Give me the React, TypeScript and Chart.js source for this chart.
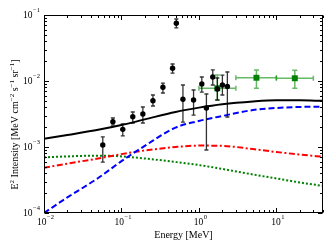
import React, { useEffect, useRef } from 'react';
import { Chart, registerables } from 'chart.js';

Chart.register(...registerables);

// ---- model curves (MeV, MeV cm^-2 s^-1 sr^-1) ----
const curveEnergy = [0.01, 0.02, 0.05, 0.1, 0.2, 0.5, 1, 2, 5, 10, 20, 40];
const totalModel = [1.33e-3, 1.52e-3, 1.82e-3, 2.15e-3, 2.62e-3, 3.4e-3, 3.95e-3, 4.45e-3, 4.9e-3, 5.1e-3, 5.1e-3, 5.0e-3];
const blueModel = [1.0e-4, 1.72e-4, 3.39e-4, 6.1e-4, 1.04e-3, 1.97e-3, 2.48e-3, 2.95e-3, 3.63e-3, 3.9e-3, 4.04e-3, 4.08e-3];
const redModel = [4.86e-4, 5.6e-4, 6.7e-4, 7.8e-4, 8.85e-4, 1.0e-3, 1.05e-3, 1.04e-3, 9.3e-4, 8.4e-4, 7.7e-4, 7.1e-4];
const greenModel = [6.98e-4, 7.2e-4, 7.4e-4, 7.2e-4, 6.7e-4, 5.93e-4, 5.33e-4, 4.65e-4, 3.83e-4, 3.34e-4, 2.9e-4, 2.57e-4];

// ---- black data points ----
const pointEnergy = [0.0574, 0.0775, 0.104, 0.14, 0.189, 0.255, 0.343, 0.457, 0.511, 0.622, 0.853, 1.09, 1.25, 1.51, 1.73, 2.01, 2.33];
const pointIntensity = [1.07e-3, 2.42e-3, 1.85e-3, 2.88e-3, 3.16e-3, 5.03e-3, 8.03e-3, 1.56e-2, 7.49e-2, 5.28e-3, 5.15e-3, 9.0e-3, 3.9e-3, 1.15e-2, 7.57e-3, 8.7e-3, 8.26e-3];
const pointLow = [5.9e-4, 2.15e-3, 1.47e-3, 2.31e-3, 2.31e-3, 4.18e-3, 6.58e-3, 1.32e-2, 6.36e-2, 2.39e-3, 3.05e-3, 6.8e-3, 9.0e-4, 8.7e-3, 5.15e-3, 6.14e-3, 2.85e-3];
const pointHigh = [1.42e-3, 2.75e-3, 2.23e-3, 3.39e-3, 4.04e-3, 6.14e-3, 9.3e-3, 1.81e-2, 8.7e-2, 8.7e-3, 7.3e-3, 1.15e-2, 6.35e-3, 1.47e-2, 1.11e-2, 1.23e-2, 1.37e-2];

// ---- green data points ----
const greenEnergy = [1.73, 5.53, 17.3];
const greenEnergyLow = [1.0, 3.0, 10.0];
const greenEnergyHigh = [3.0, 10.0, 30.0];
const greenIntensity = [7.75e-3, 1.12e-2, 1.1e-2];
const greenLow = [5.15e-3, 7.75e-3, 7.75e-3];
const greenHigh = [1.23e-2, 1.47e-2, 1.45e-2];

// ---- axes ----
const xMin = 0.01;
const xMax = 40;
const yMin = 1e-4;
const yMax = 1e-1;
const xTickExponents = [-2, -1, 0, 1];
const yTickExponents = [-4, -3, -2, -1];
const xTitle = 'Energy [MeV]';
const yTitleParts: { t: string; sup?: boolean }[] = [
  { t: 'E' }, { t: '2', sup: true }, { t: ' Intensity [MeV cm' }, { t: '\u22122', sup: true },
  { t: ' s' }, { t: '\u22121', sup: true }, { t: ' sr' }, { t: '\u22121', sup: true }, { t: ']' },
];

const SERIF = '"Liberation Serif", "DejaVu Serif", serif';

const zip = (xs: number[], ys: number[]) => xs.map((x, i) => ({ x, y: ys[i] }));

const errorBarPlugin = {
  id: 'errorBars',
  beforeDatasetDraw(chart: any, args: any) {
    const ds = chart.data.datasets[args.index];
    const xs = chart.scales.x;
    const ys = chart.scales.y;
    const ctx: CanvasRenderingContext2D = chart.ctx;
    const a = chart.chartArea;
    ctx.save();
    ctx.beginPath();
    ctx.rect(a.left, a.top, a.right - a.left, a.bottom - a.top);
    ctx.clip();
    if (ds.label === 'data') {
      ctx.strokeStyle = 'rgba(0,0,0,0.8)';
      ctx.lineWidth = 1.3;
      pointEnergy.forEach((e, i) => {
        const px = xs.getPixelForValue(e);
        const y1 = ys.getPixelForValue(pointLow[i]);
        const y2 = ys.getPixelForValue(pointHigh[i]);
        ctx.beginPath();
        ctx.moveTo(px, y1); ctx.lineTo(px, y2);
        ctx.moveTo(px - 2, y1); ctx.lineTo(px + 2, y1);
        ctx.moveTo(px - 2, y2); ctx.lineTo(px + 2, y2);
        ctx.stroke();
      });
    } else if (ds.label === 'green') {
      ctx.strokeStyle = 'rgba(0,140,0,0.6)';
      ctx.lineWidth = 1.5;
      greenEnergy.forEach((e, i) => {
        const px = xs.getPixelForValue(e);
        const py = ys.getPixelForValue(greenIntensity[i]);
        const x1 = xs.getPixelForValue(greenEnergyLow[i]);
        const x2 = xs.getPixelForValue(greenEnergyHigh[i]);
        const y1 = ys.getPixelForValue(greenLow[i]);
        const y2 = ys.getPixelForValue(greenHigh[i]);
        ctx.beginPath();
        ctx.moveTo(px, y1); ctx.lineTo(px, y2);
        ctx.moveTo(px - 2.5, y1); ctx.lineTo(px + 2.5, y1);
        ctx.moveTo(px - 2.5, y2); ctx.lineTo(px + 2.5, y2);
        ctx.moveTo(x1, py); ctx.lineTo(x2, py);
        ctx.moveTo(x1, py - 2.5); ctx.lineTo(x1, py + 2.5);
        ctx.moveTo(x2, py - 2.5); ctx.lineTo(x2, py + 2.5);
        ctx.stroke();
      });
    }
    ctx.restore();
  },
};

function drawPow(ctx: CanvasRenderingContext2D, exp: number, x: number, baseY: number, align: 'right' | 'center') {
  const base = '10';
  const ex = exp < 0 ? '\u2212' + String(-exp) : String(exp);
  ctx.font = `9.5px ${SERIF}`;
  const wb = ctx.measureText(base).width;
  ctx.font = `6.5px ${SERIF}`;
  const we = ctx.measureText(ex).width;
  const total = wb + we + 0.5;
  const start = align === 'right' ? x - total : x - total / 2;
  ctx.textAlign = 'left';
  ctx.textBaseline = 'alphabetic';
  ctx.fillStyle = '#000';
  ctx.font = `9.5px ${SERIF}`;
  ctx.fillText(base, start, baseY);
  ctx.font = `6.5px ${SERIF}`;
  ctx.fillText(ex, start + wb + 0.5, baseY - 6.2);
}

const framePlugin = {
  id: 'frameAxes',
  afterDraw(chart: any) {
    const ctx: CanvasRenderingContext2D = chart.ctx;
    const a = chart.chartArea;
    const xs = chart.scales.x;
    const ys = chart.scales.y;
    ctx.save();
    ctx.strokeStyle = '#000';
    ctx.lineWidth = 1;
    const L = Math.round(a.left) + 0.5;
    const R = Math.round(a.right) - 0.5;
    const T = Math.round(a.top) + 0.5;
    const B = Math.round(a.bottom) - 0.5;
    ctx.strokeRect(L, T, R - L, B - T);

    // ticks
    ctx.beginPath();
    for (let k = -3; k <= 2; k++) {
      for (let m = 1; m <= 9; m++) {
        const v = m * Math.pow(10, k);
        if (v < xMin * 0.999 || v > xMax * 1.001) continue;
        const px = Math.round(xs.getPixelForValue(v)) + 0.5;
        const len = m === 1 ? 4.5 : 2.5;
        ctx.moveTo(px, B); ctx.lineTo(px, B - len);
        ctx.moveTo(px, T); ctx.lineTo(px, T + len);
      }
    }
    for (let k = -5; k <= 0; k++) {
      for (let m = 1; m <= 9; m++) {
        const v = m * Math.pow(10, k);
        if (v < yMin * 0.999 || v > yMax * 1.001) continue;
        const py = Math.round(ys.getPixelForValue(v)) + 0.5;
        const len = m === 1 ? 4.5 : 2.5;
        ctx.moveTo(L, py); ctx.lineTo(L + len, py);
        ctx.moveTo(R, py); ctx.lineTo(R - len, py);
      }
    }
    ctx.stroke();

    // tick labels
    xTickExponents.forEach((k) => {
      const px = xs.getPixelForValue(Math.pow(10, k));
      drawPow(ctx, k, px + 1.5, a.bottom + 11.7, 'center');
    });
    yTickExponents.forEach((k) => {
      const py = ys.getPixelForValue(Math.pow(10, k));
      drawPow(ctx, k, a.left - 4, py + 3.3, 'right');
    });

    // x title
    ctx.font = `10px ${SERIF}`;
    ctx.textAlign = 'center';
    ctx.textBaseline = 'alphabetic';
    ctx.fillStyle = '#000';
    ctx.fillText(xTitle, (a.left + a.right) / 2, 237.5);

    // y title (rotated, with superscripts)
    ctx.save();
    ctx.translate(17.5, 124.5);
    ctx.rotate(-Math.PI / 2);
    const widths = yTitleParts.map((p) => {
      ctx.font = p.sup ? `7px ${SERIF}` : `10px ${SERIF}`;
      return ctx.measureText(p.t).width;
    });
    const total = widths.reduce((s, w) => s + w, 0);
    let cx = -total / 2;
    ctx.textAlign = 'left';
    yTitleParts.forEach((p, i) => {
      ctx.font = p.sup ? `7px ${SERIF}` : `10px ${SERIF}`;
      ctx.fillText(p.t, cx, p.sup ? -4 : 0);
      cx += widths[i];
    });
    ctx.restore();

    ctx.restore();
  },
};

export default function App() {
  const ref = useRef<HTMLCanvasElement>(null);
  useEffect(() => {
    if (!ref.current) return;
    const lineDs = (label: string, ys: number[], color: string, dash: number[], order: number) => ({
      type: 'scatter' as const,
      label,
      data: zip(curveEnergy, ys),
      showLine: true,
      borderColor: color,
      backgroundColor: color,
      borderWidth: 2,
      borderDash: dash,
      pointRadius: 0,
      cubicInterpolationMode: 'monotone' as const,
      order,
    });
    const chart = new Chart(ref.current, {
      type: 'scatter',
      data: {
        datasets: [
          {
            label: 'data',
            data: zip(pointEnergy, pointIntensity),
            pointStyle: 'circle',
            pointRadius: 2.7,
            backgroundColor: '#000',
            borderColor: '#000',
            borderWidth: 0,
            order: 0,
          },
          {
            label: 'green',
            data: zip(greenEnergy, greenIntensity),
            pointStyle: 'rect',
            pointRadius: 4.2,
            backgroundColor: '#008000',
            borderColor: '#008000',
            borderWidth: 0,
            order: 1,
          },
          lineDs('total', totalModel, '#000000', [], 2),
          lineDs('blue', blueModel, '#0000ff', [6, 3], 3),
          lineDs('red', redModel, '#ff0000', [6, 2.5, 2, 2.5], 4),
          lineDs('greenModel', greenModel, '#008000', [2, 2], 5),
        ] as any,
      },
      options: {
        animation: false,
        responsive: false,
        devicePixelRatio: 1,
        layout: { padding: { left: 44, top: 15, right: 9, bottom: 36 } },
        plugins: { legend: { display: false }, tooltip: { enabled: false }, title: { display: false } },
        events: [],
        scales: {
          x: { type: 'logarithmic', min: xMin, max: xMax, display: false },
          y: { type: 'logarithmic', min: yMin, max: yMax, display: false },
        },
      },
      plugins: [errorBarPlugin, framePlugin],
    });
    return () => chart.destroy();
  }, []);
  return (
    <div style={{ position: 'absolute', left: 0, top: 0, width: 332, height: 249, background: '#fff' }}>
      <canvas ref={ref} width={332} height={249} style={{ display: 'block', width: 332, height: 249 }} />
    </div>
  );
}
